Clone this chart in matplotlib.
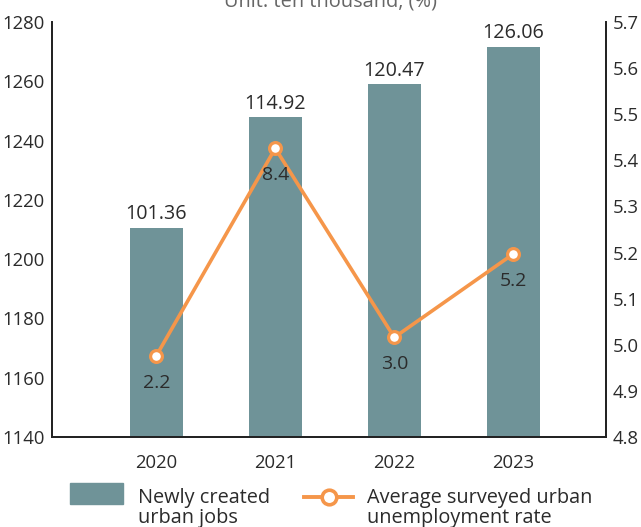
import matplotlib
matplotlib.use("Agg")
import matplotlib.pyplot as plt
from matplotlib.patches import Rectangle
from matplotlib.lines import Line2D

years = ["2020", "2021", "2022", "2023"]
jobs_height = [1210.6, 1248.0, 1259.0, 1271.7]
jobs_labels = ["101.36", "114.92", "120.47", "126.06"]
rate_values = [4.976, 5.426, 5.016, 5.197]
rate_labels = ["2.2", "8.4", "3.0", "5.2"]
left_ticks = [1140, 1160, 1180, 1200, 1220, 1240, 1260, 1280]
right_ticks = [4.8, 4.9, 5.0, 5.1, 5.2, 5.3, 5.4, 5.5, 5.6, 5.7]

BAR = "#6F9398"
ORANGE = "#F5964A"
TXT = "#2b2b2b"

plt.rcParams['font.family'] = ['Open Sans', 'DejaVu Sans']

W, H = 641, 527
fig = plt.figure(figsize=(W / 100, H / 100), dpi=100)
ax = fig.add_axes([52 / W, (H - 437) / H, (606 - 52) / W, (437 - 22) / H])
ax2 = ax.twinx()

x = list(range(len(years)))
ax.bar(x, [h - 1140 for h in jobs_height], bottom=1140, width=0.445, color=BAR, zorder=2)
ax.set_ylim(1140, 1280)
ax.set_xlim(-0.876, 3.779)
ax.set_yticks(left_ticks)
ax.set_yticklabels([str(t) for t in left_ticks])
ax.set_xticks(x)
ax.set_xticklabels(years)

for xi, h, lab in zip(x, jobs_height, jobs_labels):
    ax.annotate(lab, (xi, h), xytext=(0, 6), textcoords="offset points",
                ha="center", va="baseline", fontsize=14.2, color=TXT)

ax2.plot(x, rate_values, color=ORANGE, lw=2.6, marker="o", ms=8.5,
         mfc="white", mec=ORANGE, mew=2.3, zorder=3)
ax2.set_ylim(4.8, 5.7)
ax2.set_yticks(right_ticks)
ax2.set_yticklabels([f"{t:.1f}" for t in right_ticks])
for xi, v, lab in zip(x, rate_values, rate_labels):
    ax2.annotate(lab, (xi, v), xytext=(0, -19.5), textcoords="offset points",
                 ha="center", va="center", fontsize=14, color=TXT)

for a in (ax, ax2):
    a.spines["top"].set_visible(False)
    for s in ("left", "right", "bottom"):
        a.spines[s].set_color("#222222")
        a.spines[s].set_linewidth(1.3)
    a.tick_params(length=0, labelsize=13.3, colors=TXT, pad=5)
ax.spines["right"].set_visible(True)
ax.tick_params(axis="x", pad=12)

fig.text(331 / W, 1 - 7 / H, "Unit: ten thousand, (%)", ha="center", va="baseline",
         fontsize=14.4, color="#666666")

# legend (manual)
fig.add_artist(Rectangle((70 / W, 1 - 504.3 / H), 52.7 / W, 21 / H,
                         transform=fig.transFigure, color=BAR))
fig.text(138 / W, 1 - 523 / H, "Newly created\nurban jobs", ha="left", va="baseline",
         fontsize=14.3, color=TXT, linespacing=1.0)
fig.add_artist(Line2D([304 / W, 353 / W], [1 - 496.5 / H, 1 - 496.5 / H],
                      transform=fig.transFigure, color=ORANGE, lw=2.8))
fig.add_artist(Line2D([329 / W], [1 - 496.5 / H], transform=fig.transFigure,
                      marker="o", ms=10.5, mfc="white", mec=ORANGE, mew=2.6))
fig.text(367 / W, 1 - 523 / H, "Average surveyed urban\nunemployment rate",
         ha="left", va="baseline", fontsize=14.3, color=TXT, linespacing=1.0)

fig.savefig("out.png", dpi=100)
